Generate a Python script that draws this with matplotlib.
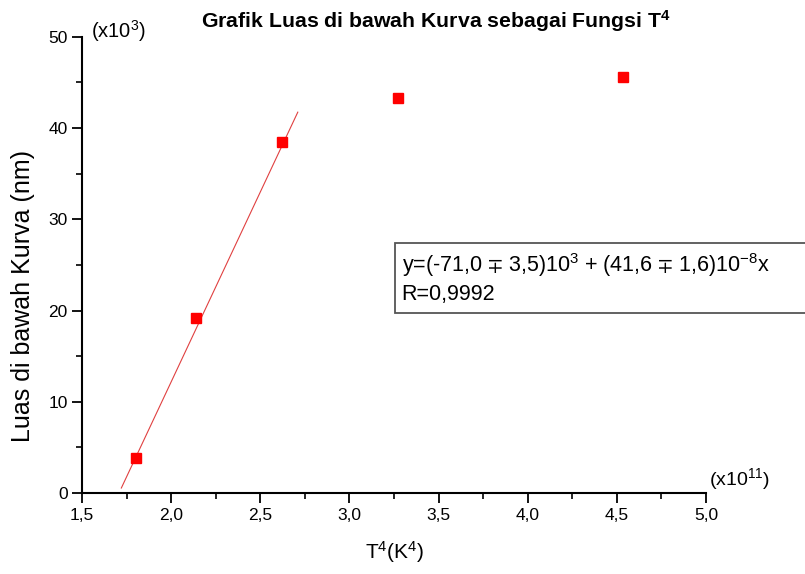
import numpy as np
import matplotlib
matplotlib.use("Agg")
import matplotlib.pyplot as plt
from matplotlib.patches import Rectangle

plt.rcParams['font.family'] = ['Liberation Sans', 'DejaVu Sans']
plt.rcParams['mathtext.default'] = 'regular'

# data (x in 1e11 K^4, y in 1e3 nm)
t4 = [1.803, 2.140, 2.624, 3.270, 4.534]
luas = [3.85, 19.2, 38.5, 43.3, 45.6]

# linear fit from the equation in the box
intercept = -71.0
slope = 41.6
fit_x = [1.72, 2.71]

xticks = [1.5, 2.0, 2.5, 3.0, 3.5, 4.0, 4.5, 5.0]
xticklabels = ['1,5', '2,0', '2,5', '3,0', '3,5', '4,0', '4,5', '5,0']
yticks = [0, 10, 20, 30, 40, 50]

fig = plt.figure(figsize=(8.05, 5.74), dpi=100)
ax = fig.add_axes([0.102, 0.141, 0.775, 0.795])

fx = np.array(fit_x)
ax.plot(fx, intercept + slope * fx, color='#e04040', lw=0.8)
ax.plot(t4, luas, 's', color='#ff0000', ms=6.5, mec='#ff0000')

ax.set_xlim(1.5, 5.0)
ax.set_ylim(0, 50)
ax.set_xticks(xticks)
ax.set_xticklabels(xticklabels)
ax.set_yticks(yticks)
ax.set_xticks(np.arange(1.75, 5.0, 0.5), minor=True)
ax.set_yticks(np.arange(5, 50, 10), minor=True)

for s in ['top', 'right']:
    ax.spines[s].set_visible(False)
for s in ['left', 'bottom']:
    ax.spines[s].set_linewidth(1.5)
ax.tick_params(which='major', direction='out', length=7, width=1.3, labelsize=12.5)
ax.tick_params(which='minor', direction='out', length=4, width=1.2)

ax.set_xlabel('T$^{4}$(K$^{4}$)', fontsize=15, labelpad=12)
ax.set_ylabel('Luas di bawah Kurva (nm)', fontsize=18)
ax.yaxis.set_label_coords(-0.076, 0.432)

ax.text(0.015, 1.012, '(x10$^{3}$)', transform=ax.transAxes, fontsize=14.5,
        va='center', ha='left')
ax.text(1.005, 0.03, '(x10$^{11}$)', transform=ax.transAxes, fontsize=14,
        va='center', ha='left')

fig.text(0.542, 0.963, 'Grafik Luas di bawah Kurva sebagai Fungsi T$^{4}$',
         fontsize=15.3, fontweight='bold', ha='center', va='center')

# equation box (runs off the right edge as in the original)
ax.add_patch(Rectangle((0.502, 0.395), 0.7, 0.153, transform=ax.transAxes,
                       fc='white', ec='#555555', lw=1.3, clip_on=False))
ax.text(0.512, 0.472,
        'y=(-71,0 $\\mp$ 3,5)10$^{3}$ + (41,6 $\\mp$ 1,6)10$^{-8}$x\nR=0,9992',
        transform=ax.transAxes, fontsize=15.5, va='center', ha='left',
        linespacing=1.3)

fig.savefig('out.png', dpi=100)
